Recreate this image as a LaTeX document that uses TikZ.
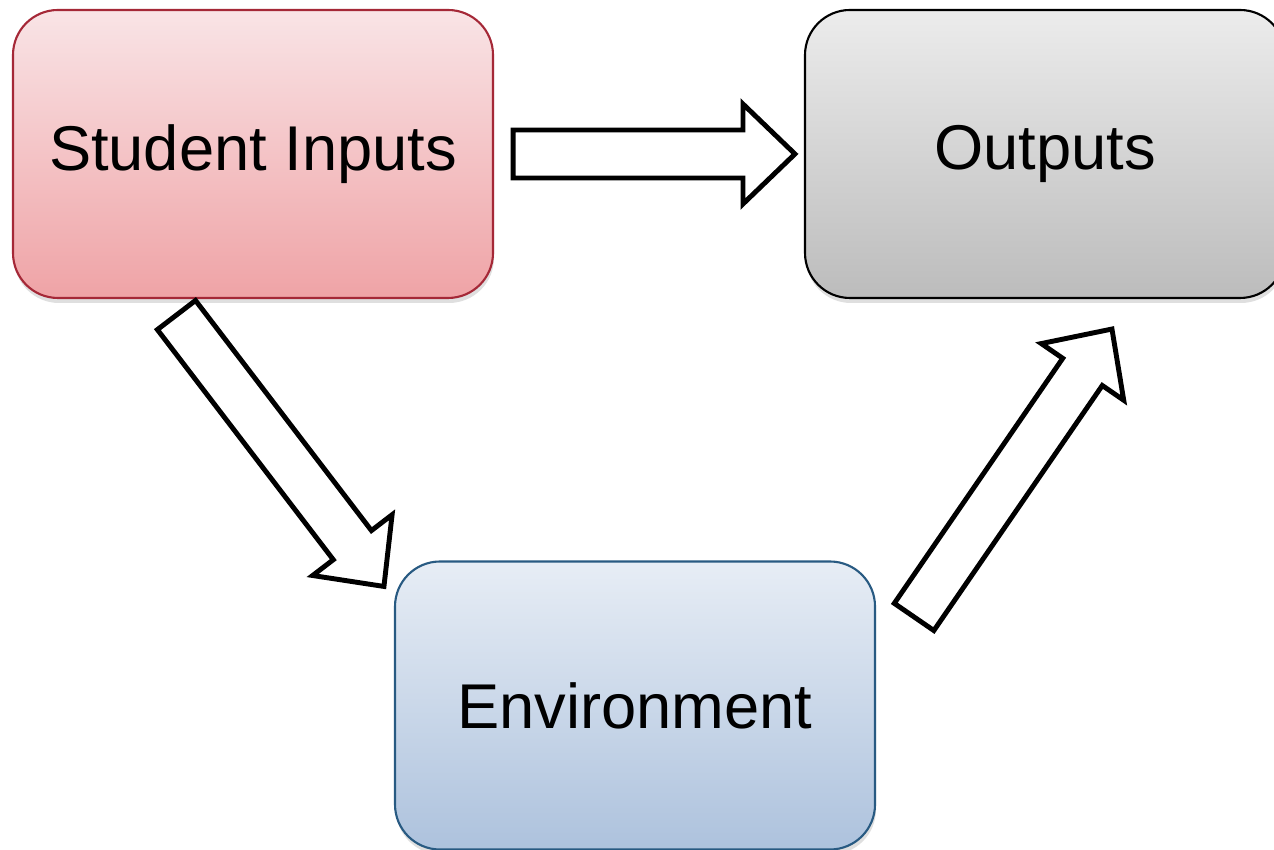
\documentclass[tikz,border=0pt]{standalone}
\usepackage{fontspec}
\setmainfont{Liberation Sans}
\usetikzlibrary{calc, shadows}
\definecolor{rosetop}{RGB}{249,228,230}
\definecolor{rosebot}{RGB}{239,163,166}
\definecolor{roseline}{RGB}{165,40,55}
\definecolor{greytop}{RGB}{236,236,236}
\definecolor{greybot}{RGB}{188,188,188}
\definecolor{bluetop}{RGB}{231,237,245}
\definecolor{bluebot}{RGB}{173,194,221}
\definecolor{blueline}{RGB}{40,90,130}

\tikzset{
  stage/.style={rounded corners=0.45cm, minimum width=4.8cm, minimum height=2.88cm,
    line width=0.6pt, font=\fontsize{18}{22}\selectfont,
    drop shadow={shadow xshift=0.01cm, shadow yshift=-0.05cm, opacity=0.25}},
  fat arrow/.style={draw=black, fill=white, line width=1.4pt, line join=miter}
}

% hollow block arrow from tail #1 to tip #2
\newcommand{\blockarrow}[2]{%
  \coordinate (hb) at ($(#2)!0.52cm!(#1)$);
  \filldraw[fat arrow] ($(#1)!0.24cm!90:(#2)$) -- ($(hb)!0.24cm!-90:(#1)$)
    -- ($(hb)!0.5cm!-90:(#1)$) -- (#2) -- ($(hb)!0.5cm!90:(#1)$)
    -- ($(hb)!0.24cm!90:(#1)$) -- ($(#1)!0.24cm!-90:(#2)$) -- cycle;}

\begin{document}
\begin{tikzpicture}
    \useasboundingbox (0,0) rectangle (12.74,-8.5);

    % the three stages
    \node[stage, draw=roseline, top color=rosetop, bottom color=rosebot] (si) at (2.53,-1.54) {Student Inputs};
    \node[stage, draw=black, top color=greytop, bottom color=greybot] (out) at (10.45,-1.54) {Outputs};
    \node[stage, draw=blueline, top color=bluetop, bottom color=bluebot] (env) at (6.35,-7.055) {Environment};

    % arrow ends
    \coordinate (a1) at ([xshift=0.19cm]si.east);
    \coordinate (b1) at ([xshift=-0.09cm]out.west);
    \coordinate (a2) at ([shift={(1.645,-0.16)}]si.south west);
    \coordinate (b2) at ([shift={(-0.10,-0.26)}]env.north west);
    \coordinate (a3) at ([shift={(0.38,-0.565)}]env.north east);
    \coordinate (b3) at ([shift={(3.08,-0.30)}]out.south west);

    % arrows
    \blockarrow{a1}{b1}
    \blockarrow{a2}{b2}
    \blockarrow{a3}{b3}
\end{tikzpicture}
\end{document}
